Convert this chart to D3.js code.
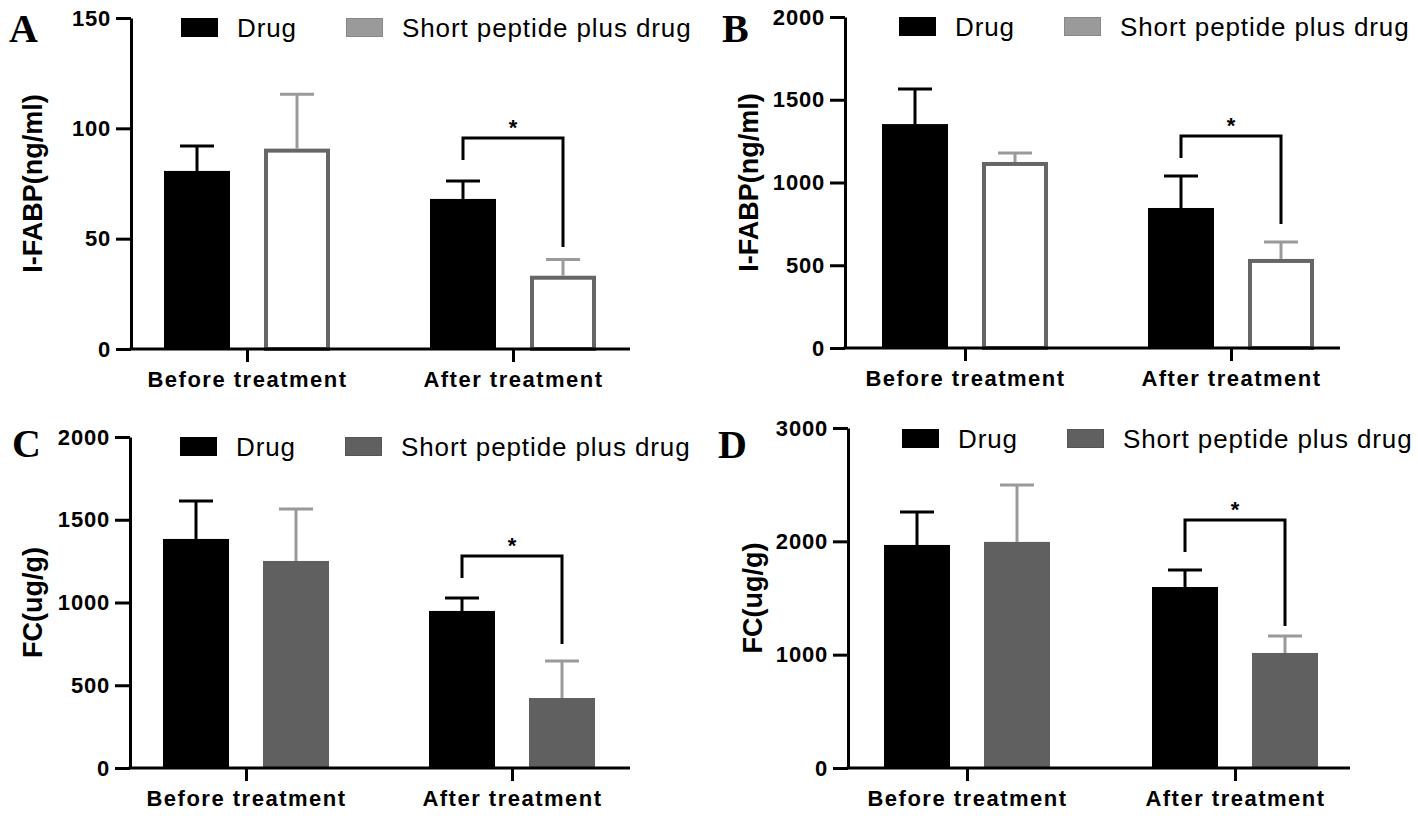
<!DOCTYPE html>
<html><head><meta charset="utf-8">
<script src="https://cdn.jsdelivr.net/npm/d3@7"></script>
<style>
html,body{margin:0;padding:0;background:#fff;}
svg{display:block;}
</style>
</head><body>
<svg id="chart" width="1418" height="818"></svg>
<script>
// ---------- data ----------
const categories = ["Before treatment", "After treatment"];
const seriesNames = ["Drug", "Short peptide plus drug"];
const panelLetters = ["A", "B", "C", "D"];
const yAxisLabels = ["I-FABP(ng/ml)", "I-FABP(ng/ml)", "FC(ug/g)", "FC(ug/g)"];
const yMaxA = 150, yMaxB = 2000, yMaxC = 2000, yMaxD = 3000;
const yTicksA = [0, 50, 100, 150];
const yTicksB = [0, 500, 1000, 1500, 2000];
const yTicksC = [0, 500, 1000, 1500, 2000];
const yTicksD = [0, 1000, 2000, 3000];

const drugMeanA = [80.7, 68.0],  drugSdA = [11.3, 8.1];
const pepMeanA  = [89.9, 32.3],  pepSdA  = [25.6, 8.3];
const drugMeanB = [1353, 846],   drugSdB = [212, 193];
const pepMeanB  = [1112, 526],   pepSdB  = [66, 114];
const drugMeanC = [1384, 949],   drugSdC = [229, 78];
const pepMeanC  = [1251, 423],   pepSdC  = [314, 224];
const drugMeanD = [1968, 1597],  drugSdD = [291, 151];
const pepMeanD  = [1995, 1015],  pepSdD  = [503, 150];
// significance bracket: [bracket level, left leg end, right leg end]
const sigA = [95.6, 85.6, 46.2];
const sigB = [1281, 1148, 749];
const sigC = [1281, 1148, 749];
const sigD = [2189, 1906, 1253];
const sigLabel = "*";

// ---------- layout ----------
const panels = [
  {letter: panelLetters[0], ylab: yAxisLabels[0], yMax: yMaxA, ticks: yTicksA, drug: drugMeanA, drugSd: drugSdA, pep: pepMeanA, pepSd: pepSdA, sig: sigA, hollow: true,
   axisX: 131, top: 18, bottom: 349, xEnd: 630, c1: 247, c2: 513, legX: 181, legY: 18, letterX: 9, letterY: 42, ylabX: 42},
  {letter: panelLetters[1], ylab: yAxisLabels[1], yMax: yMaxB, ticks: yTicksB, drug: drugMeanB, drugSd: drugSdB, pep: pepMeanB, pepSd: pepSdB, sig: sigB, hollow: true,
   axisX: 845, top: 17, bottom: 348, xEnd: 1340, c1: 965, c2: 1231, legX: 899, legY: 17, letterX: 722, letterY: 42, ylabX: 758},
  {letter: panelLetters[2], ylab: yAxisLabels[2], yMax: yMaxC, ticks: yTicksC, drug: drugMeanC, drugSd: drugSdC, pep: pepMeanC, pepSd: pepSdC, sig: sigC, hollow: false,
   axisX: 130, top: 437, bottom: 768, xEnd: 630, c1: 246, c2: 512, legX: 180, legY: 437, letterX: 12, letterY: 457, ylabX: 42},
  {letter: panelLetters[3], ylab: yAxisLabels[3], yMax: yMaxD, ticks: yTicksD, drug: drugMeanD, drugSd: drugSdD, pep: pepMeanD, pepSd: pepSdD, sig: sigD, hollow: false,
   axisX: 848, top: 428, bottom: 768, xEnd: 1350, c1: 967, c2: 1235, legX: 902, legY: 429, letterX: 718, letterY: 458, ylabX: 762}
];

const svg = d3.select("#chart");
const SANS = "'Liberation Sans', Arial, sans-serif";
const SERIF = "'Liberation Serif', 'Times New Roman', serif";
const errColor = ["#000000", "#9a9a9a"];

panels.forEach(p => {
  const g = svg.append("g");
  const y = d3.scaleLinear().domain([0, p.yMax]).range([p.bottom, p.top]);
  const x0 = d3.scalePoint().domain(categories).range([p.c1, p.c2]);
  const x1 = d3.scaleBand().domain(seriesNames).range([-83, 83]).paddingInner(0.34);
  const bw = x1.bandwidth();

  const rows = [];
  categories.forEach((c, i) => {
    rows.push({cat: c, s: seriesNames[0], v: p.drug[i], sd: p.drugSd[i], k: 0});
    rows.push({cat: c, s: seriesNames[1], v: p.pep[i], sd: p.pepSd[i], k: 1});
  });

  // bars
  g.selectAll("rect.bar").data(rows).join("rect")
    .attr("class", "bar")
    .attr("x", d => x0(d.cat) + x1(d.s) + (d.k === 1 && p.hollow ? 2 : 0))
    .attr("y", d => y(d.v))
    .attr("width", d => bw - (d.k === 1 && p.hollow ? 4 : 0))
    .attr("height", d => y(0) - y(d.v))
    .attr("fill", d => d.k === 0 ? "#000" : (p.hollow ? "#fff" : "#606060"))
    .attr("stroke", d => d.k === 1 && p.hollow ? "#666" : "none")
    .attr("stroke-width", 4);

  // error bars (upper only)
  const eg = g.selectAll("g.err").data(rows).join("g").attr("class", "err")
    .attr("stroke", d => errColor[d.k]).attr("stroke-width", 3).attr("fill", "none");
  eg.append("line")
    .attr("x1", d => x0(d.cat) + x1(d.s) + bw / 2)
    .attr("x2", d => x0(d.cat) + x1(d.s) + bw / 2)
    .attr("y1", d => y(d.v) - (d.k === 1 && p.hollow ? 2 : 0))
    .attr("y2", d => y(d.v + d.sd));
  eg.append("line")
    .attr("x1", d => x0(d.cat) + x1(d.s) + bw / 2 - 17)
    .attr("x2", d => x0(d.cat) + x1(d.s) + bw / 2 + 17)
    .attr("y1", d => y(d.v + d.sd))
    .attr("y2", d => y(d.v + d.sd));

  // y axis
  const yAxis = d3.axisLeft(y).tickValues(p.ticks).tickSize(15).tickSizeOuter(0).tickPadding(5)
    .tickFormat(d3.format("d"));
  const ya = g.append("g").attr("transform", `translate(${p.axisX},0)`).call(yAxis);
  ya.select(".domain").attr("stroke", "#000").attr("stroke-width", 3);
  ya.selectAll(".tick line").attr("stroke", "#000").attr("stroke-width", 3);
  ya.selectAll(".tick text").attr("fill", "#000")
    .style("font-family", SANS).style("font-size", "22px").style("font-weight", "bold")
    .style("letter-spacing", "0.8px");

  // x axis
  g.append("line").attr("x1", p.axisX - 1.5).attr("x2", p.xEnd)
    .attr("y1", y(0)).attr("y2", y(0)).attr("stroke", "#000").attr("stroke-width", 3);
  const xa = g.append("g").attr("transform", `translate(0,${y(0)})`)
    .call(d3.axisBottom(x0).tickSize(13).tickSizeOuter(0).tickPadding(9));
  xa.select(".domain").remove();
  xa.selectAll(".tick line").attr("stroke", "#000").attr("stroke-width", 3);
  xa.selectAll(".tick text").attr("fill", "#000")
    .style("font-family", SANS).style("font-size", "22px").style("font-weight", "bold")
    .style("letter-spacing", "1.5px");

  // significance bracket
  const xl = x0(categories[1]) + x1(seriesNames[0]) + bw / 2;
  const xr = x0(categories[1]) + x1(seriesNames[1]) + bw / 2;
  const path = d3.path();
  path.moveTo(xl, y(p.sig[1]));
  path.lineTo(xl, y(p.sig[0]));
  path.lineTo(xr, y(p.sig[0]));
  path.lineTo(xr, y(p.sig[2]));
  g.append("path").attr("d", path.toString()).attr("fill", "none")
    .attr("stroke", "#000").attr("stroke-width", 3).attr("stroke-linejoin", "miter");
  g.append("text").attr("x", (xl + xr) / 2).attr("y", y(p.sig[0]) - 3)
    .attr("text-anchor", "middle").style("font-family", SANS)
    .style("font-size", "22px").style("font-weight", "bold").text(sigLabel);

  // y label
  g.append("text")
    .attr("transform", `translate(${p.ylabX},${(p.top + p.bottom) / 2}) rotate(-90)`)
    .attr("text-anchor", "middle").style("font-family", SANS)
    .style("font-size", "27px").style("font-weight", "bold").text(p.ylab);

  // panel letter
  g.append("text").attr("x", p.letterX).attr("y", p.letterY)
    .style("font-family", SERIF).style("font-size", "40px").style("font-weight", "bold")
    .text(p.letter);

  // legend
  const legFill = ["#000", p.hollow ? "#9a9a9a" : "#606060"];
  const legStroke = ["#000", p.hollow ? "#888" : "#555"];
  const legOffsets = [0, 165];
  seriesNames.forEach((s, i) => {
    g.append("rect").attr("x", p.legX + legOffsets[i] + 0.5).attr("y", p.legY + 0.5)
      .attr("width", 36).attr("height", 18)
      .attr("fill", legFill[i]).attr("stroke", legStroke[i]).attr("stroke-width", 1);
    g.append("text").attr("x", p.legX + legOffsets[i] + 56).attr("y", p.legY + 19)
      .style("font-family", SANS).style("font-size", "26px").style("letter-spacing", "0.9px")
      .text(s);
  });
});
</script>
</body></html>
